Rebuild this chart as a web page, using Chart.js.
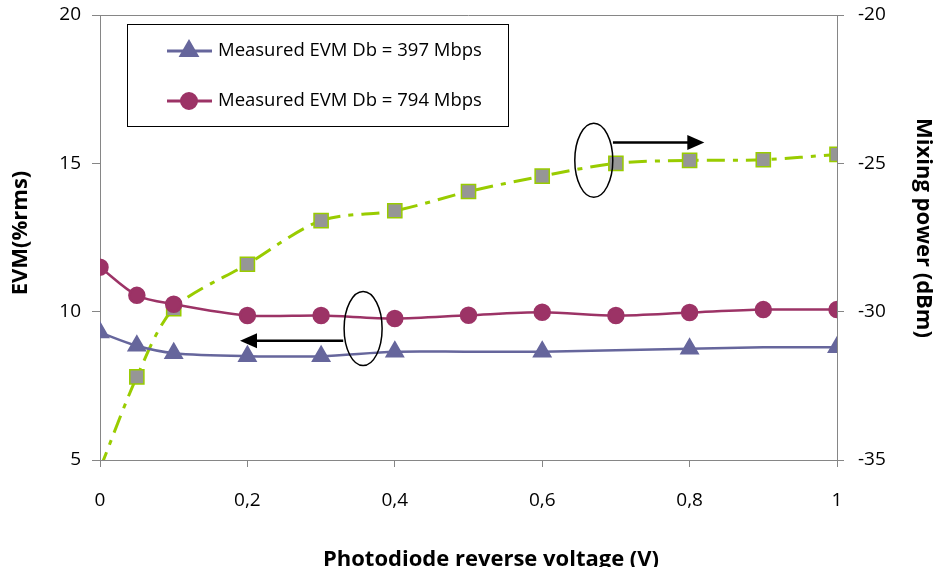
<!DOCTYPE html>
<html>
<head>
<meta charset="utf-8">
<script src="https://cdn.jsdelivr.net/npm/chart.js@4.4.0/dist/chart.umd.min.js"></script>
<style>
  html, body { margin: 0; padding: 0; background: #fff; }
  #wrap { width: 939px; height: 567px; }
</style>
</head>
<body>
<div id="wrap"><canvas id="myChart" width="939" height="567"></canvas></div>
<script>
// x values (V)
var voltage = [0, 0.05, 0.1, 0.2, 0.3, 0.4, 0.5, 0.6, 0.7, 0.8, 0.9, 1];

// EVM (%rms), left axis
var evm397 = [9.3, 8.85, 8.6, 8.5, 8.5, 8.65, 8.65, 8.65, 8.7, 8.75, 8.8, 8.8];
var evm397Marker = [1, 1, 1, 1, 1, 1, 0, 1, 0, 1, 0, 1];
var evm794 = [11.5, 10.55, 10.25, 9.87, 9.87, 9.77, 9.88, 9.98, 9.87, 9.97, 10.07, 10.07];

// mixing power (dBm), right axis
var mixPower = [-35.3, -32.2, -29.9, -28.4, -26.93, -26.6, -25.95, -25.43, -25.0, -24.9, -24.88, -24.7];
var mixMarker = [0, 1, 1, 1, 1, 1, 1, 1, 1, 1, 1, 1];

var evmTicks = [5, 10, 15, 20];
var powerTicks = [-35, -30, -25, -20];

var seriesLabels = ["Measured EVM Db = 397 Mbps", "Measured EVM Db = 794 Mbps"];
var xTitle = "Photodiode reverse voltage (V)";
var yTitle = "EVM(%rms)";
var y2Title = "Mixing power (dBm)";

// ellipses and arrows: [x, yLeft] in data units
var ellipses = [[0.357, 9.43], [0.67, 15.1]];
var arrows = [[0.33, 9.02, 0.19, 9.02], [0.696, 15.7, 0.82, 15.7]];

var axisGrey = "#868686";
var tickFont = { family: "'Open Sans', sans-serif", size: 19 };
var titleCss = "bold 22px 'Open Sans', sans-serif";

function pts(ys) {
  return voltage.map(function(v, i) { return { x: v, y: ys[i] }; });
}

var overlay = {
  id: "overlay",
  afterDraw: function(chart) {
    var c = chart.ctx, a = chart.chartArea;
    var sx = chart.scales.x, sy = chart.scales.y;
    c.save();
    // plot frame top line
    c.strokeStyle = axisGrey;
    c.lineWidth = 1;
    c.beginPath();
    c.moveTo(a.left, a.top + 0.5);
    c.lineTo(a.right, a.top + 0.5);
    c.stroke();

    // ellipses
    c.strokeStyle = "#000";
    c.lineWidth = 1.5;
    ellipses.forEach(function(e) {
      c.beginPath();
      c.ellipse(sx.getPixelForValue(e[0]), sy.getPixelForValue(e[1]), 19, 37, 0, 0, Math.PI * 2);
      c.stroke();
    });
    // arrows
    c.fillStyle = "#000";
    arrows.forEach(function(r) {
      var x1 = sx.getPixelForValue(r[0]), y1 = sy.getPixelForValue(r[1]);
      var x2 = sx.getPixelForValue(r[2]);
      var dir = x2 > x1 ? 1 : -1;
      c.lineWidth = 2.5;
      c.beginPath();
      c.moveTo(x1, y1);
      c.lineTo(x2 - dir * 14, y1);
      c.stroke();
      c.beginPath();
      c.moveTo(x2, y1);
      c.lineTo(x2 - dir * 17, y1 - 7.5);
      c.lineTo(x2 - dir * 17, y1 + 7.5);
      c.closePath();
      c.fill();
    });

    // axis titles
    c.fillStyle = "#000";
    c.font = titleCss;
    c.textAlign = "center";
    c.textBaseline = "alphabetic";
    c.fillText(xTitle, 491, 566);
    c.textBaseline = "middle";
    c.save();
    c.translate(21, 233);
    c.rotate(-Math.PI / 2);
    c.fillText(yTitle, 0, 0);
    c.restore();
    c.save();
    c.translate(923, 228);
    c.rotate(Math.PI / 2);
    c.fillText(y2Title, 0, 0);
    c.restore();
    c.textAlign = "left";

    // legend box
    c.fillStyle = "#fff";
    c.fillRect(127, 24, 381, 102);
    c.strokeStyle = "#000";
    c.lineWidth = 1;
    c.strokeRect(127.5, 24.5, 381, 102);
    [0, 1].forEach(function(i) {
      var ds = chart.data.datasets[i];
      var y = 51 + i * 50;
      c.strokeStyle = ds.borderColor;
      c.lineWidth = 3;
      c.beginPath();
      c.moveTo(167, y);
      c.lineTo(212, y);
      c.stroke();
      Chart.helpers.drawPoint(c, {
        pointStyle: ds.pointStyle, radius: ds.pointRadius[0] || 8, borderWidth: 1
      }, 189, y);
      c.fillStyle = ds.borderColor;
      c.fill();
      c.fillStyle = "#000";
      c.font = "18.5px 'Open Sans', sans-serif";
      c.textBaseline = "middle";
      c.fillText(seriesLabels[i], 218, y);
    });
    c.restore();
  }
};

function fixVertical(w) {
  return function(s) { s.width = w; s.paddingTop = 0; s.paddingBottom = 0; };
}

var ctx = document.getElementById("myChart");
var myChart = new Chart(ctx, {
  type: "line",
  data: {
    datasets: [
      {
        label: seriesLabels[0],
        data: pts(evm397),
        yAxisID: "y",
        borderColor: "#66669c",
        backgroundColor: "#66669c",
        borderWidth: 2.5,
        pointStyle: "triangle",
        pointRadius: evm397Marker.map(function(m) { return m ? 9 : 0; }),
        tension: 0.3
      },
      {
        label: seriesLabels[1],
        data: pts(evm794),
        yAxisID: "y",
        borderColor: "#9c3366",
        backgroundColor: "#9c3366",
        borderWidth: 2.5,
        pointStyle: "circle",
        pointRadius: voltage.map(function() { return 7.5; }),
        tension: 0.3
      },
      {
        label: "Mixing power",
        data: pts(mixPower),
        yAxisID: "y2",
        borderColor: "#99cc00",
        backgroundColor: "#969696",
        borderWidth: 3,
        borderDash: [18, 8, 5, 8],
        pointStyle: "rect",
        pointBorderColor: "#99cc00",
        pointBorderWidth: 1.5,
        pointRadius: mixMarker.map(function(m) { return m ? 10 : 0; }),
        tension: 0.3
      }
    ]
  },
  options: {
    responsive: false,
    animation: false,
    layout: { padding: { top: 15, bottom: 0, left: 0, right: 0 } },
    plugins: { legend: { display: false }, tooltip: { enabled: false } },
    scales: {
      x: {
        type: "linear",
        min: 0,
        max: 1,
        ticks: {
          stepSize: 0.2,
          font: tickFont,
          color: "#000",
          padding: 22,
          maxRotation: 0,
          callback: function(v) { return (Math.round(v * 10) / 10).toString().replace(".", ","); }
        },
        grid: { drawOnChartArea: false, tickLength: 7, color: axisGrey },
        border: { color: axisGrey },
        afterFit: function(s) { s.height = 107; s.paddingLeft = 0; s.paddingRight = 0; }
      },
      y: {
        position: "left",
        min: 5,
        max: 20,
        afterBuildTicks: function(s) { s.ticks = evmTicks.map(function(v) { return { value: v }; }); },
        ticks: { font: tickFont, color: "#000", padding: 11 },
        grid: { drawOnChartArea: false, tickLength: 8, color: axisGrey },
        border: { color: axisGrey },
        afterFit: fixVertical(100)
      },
      y2: {
        position: "right",
        min: -35,
        max: -20,
        afterBuildTicks: function(s) { s.ticks = powerTicks.map(function(v) { return { value: v }; }); },
        ticks: { font: tickFont, color: "#000", padding: 14 },
        grid: { drawOnChartArea: false, tickLength: 7, color: axisGrey },
        border: { color: axisGrey },
        afterFit: fixVertical(102)
      }
    }
  },
  plugins: [overlay]
});
</script>
</body>
</html>
